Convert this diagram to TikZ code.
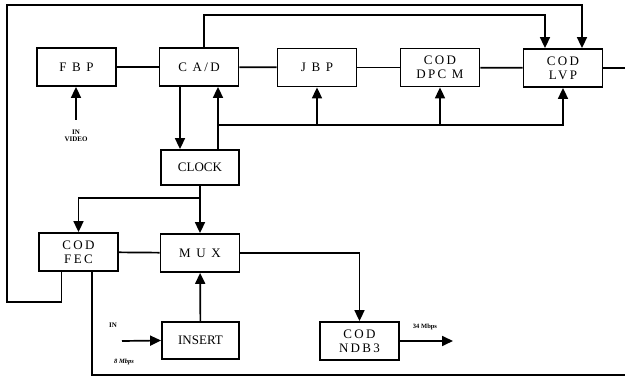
\documentclass[tikz,border=0pt]{standalone}
\usepackage{fontspec}
\setmainfont{Liberation Serif}
\newfontfamily\boxfont[LetterSpace=18]{Liberation Serif}
\usetikzlibrary{arrows.meta}
\begin{document}
\begin{tikzpicture}[x=1pt,y=-1pt,
  blk/.style={draw,line width=1.8pt,minimum width=79pt,minimum height=38pt,inner sep=0pt,
    align=center,font=\boxfont\fontsize{13}{13}\selectfont},
  ln/.style={line width=1.7pt},
  arr/.style={line width=1.7pt,-{Triangle[length=11pt,width=10pt]}},
  sm/.style={font=\fontsize{7}{7.5}\selectfont\bfseries,inner sep=0pt,align=center}]
\useasboundingbox (0,0) rectangle (625,382);
% blocks
\node[blk] (FBP) at (76.5,67) {F B P};
\node[blk] (CAD) at (199,67) {C A/D};
\node[blk] (JBP) at (317,67.5) {J B P};
\node[blk] (DPCM) at (440,67.5) {COD\\[1pt]DPC M};
\node[blk] (LVP) at (563,68) {COD\\[1pt]LVP};
\node[blk,minimum width=78pt,minimum height=35pt,font=\fontsize{13}{13}\selectfont] (CLK) at (200,167.5) {CLOCK};
\node[blk] (FEC) at (78.5,252) {COD\\[1pt]FEC};
\node[blk] (MUX) at (200,253) {M U X};
\node[blk,minimum width=77pt,minimum height=37pt,font=\fontsize{13}{13}\selectfont] (INS) at (200.5,340.5) {INSERT};
\node[blk] (NDB) at (359.5,341) {COD\\[1pt]NDB3};
% free points
\coordinate (tl) at (7,5);
\coordinate (bl) at (7,302);
\coordinate (t2) at (204,15);
\coordinate (cb) at (218,125);
\coordinate (fb) at (80,198);
\coordinate (outR) at (625,68);
\coordinate (botR) at (625,375);
\coordinate (vin) at (76,120);
\coordinate (iin) at (122,341);
\coordinate (nout) at (453,341);
% chain
\draw[ln] (FBP) -- (CAD);
\draw[ln] (CAD) -- (JBP);
\draw[ln] (JBP) -- (DPCM);
\draw[ln] (DPCM) -- (LVP);
\draw[ln] (LVP.east) -- (outR);
% top loops
\draw[arr] ([xshift=-17pt]FEC.south) |- (bl) -- (tl) -| ([xshift=19pt]LVP.north);
\draw[arr] ([xshift=5pt]CAD.north) |- (t2) -| ([xshift=-18pt]LVP.north);
% clock
\draw[arr] ([xshift=-19pt]CAD.south) -- ([xshift=-20pt]CLK.north);
\draw[arr] (CLK.north -| cb) -- (CAD.south -| cb);
\draw[arr] (cb) -| (LVP.south);
\draw[arr] (cb -| JBP.south) -- (JBP.south);
\draw[arr] (cb -| DPCM.south) -- (DPCM.south);
\draw[arr] (CLK.south) -- (MUX.north);
\draw[arr] (CLK.south |- fb) -| (FEC.north);
% mux
\draw[ln] (FEC) -- (MUX);
\draw[arr] (MUX.east) -| (NDB.north);
\draw[arr] (INS) -- (MUX);
\draw[ln] ([xshift=13.5pt]FEC.south) |- (botR);
% inputs/outputs
\draw[arr] (vin) -- (FBP.south -| vin);
\node[sm] (vlab) at (76,136) {IN\\VIDEO};
\draw[arr] (iin) -- (INS.west);
\node[sm] (inlab) at (113,325) {IN};
\node[sm,font=\fontsize{6.5}{7}\selectfont\bfseries\itshape] (mlab) at (124,362) {8 Mbps};
\draw[arr] (NDB.east) -- (nout);
\node[sm,font=\fontsize{6.5}{7}\selectfont\bfseries] (olab) at (425,327) {34 Mbps};
\end{tikzpicture}
\end{document}
